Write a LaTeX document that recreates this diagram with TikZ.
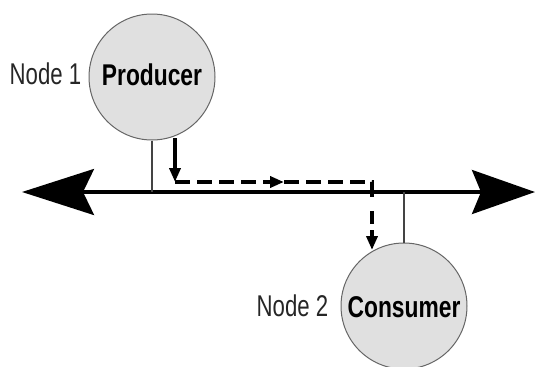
\documentclass[tikz,border=0pt]{standalone}
\usepackage{fontspec}
\setmainfont{Liberation Sans}
\usetikzlibrary{arrows.meta,calc}
\definecolor{circfill}{HTML}{E0E0E0}
\definecolor{circline}{HTML}{666666}
\definecolor{stubline}{HTML}{444444}
\tikzset{
  station/.style={circle, draw=circline, line width=1pt, fill=circfill, minimum size=126pt, inner sep=0pt},
  lbl/.style={font=\fontsize{30}{30}\selectfont, inner sep=0pt, anchor=base, text=black!85},
  blbl/.style={font=\bfseries\fontsize{30}{30}\selectfont, inner sep=0pt, anchor=base},
  bus/.style={line width=3.4pt, {Stealth[length=72pt,width=46pt,inset=11pt]}-{Stealth[length=63pt,width=44pt,inset=9pt]}},
  stub/.style={draw=stubline, line width=1.6pt},
  flowline/.style={line width=3.6pt},
  flowdash/.style={line width=3.6pt, dash pattern=on 15pt off 7pt},
  flowtip/.style={-{Triangle[length=14pt,width=11pt]}},
}
\begin{document}
\begin{tikzpicture}[x=1pt,y=-1pt]
\useasboundingbox (0,0) rectangle (536,367);
% stations
\node[station] (prod) at (152,77) {};
\node[station] (cons) at (404,306) {};
\node[blbl] (prodtxt) at (152,85) {\scalebox{0.76}[1]{Producer}};
\node[blbl] (constxt) at (404,317) {\scalebox{0.76}[1]{Consumer}};
\node[lbl] (n1) at (45.5,84) {\scalebox{0.74}[1]{Node 1}};
\node[lbl] (n2) at (292.5,316) {\scalebox{0.74}[1]{Node 2}};
% bus
\coordinate (bl) at (22,192);
\coordinate (br) at (535,192);
\draw[bus] (bl) -- (br);
% stubs
\coordinate (s1) at (152,192);
\coordinate (s2) at (404,192);
\draw[stub] (prod.south) -- (s1);
\draw[stub] (s2) -- (cons.north);
% flow path
\coordinate (f0) at (175,138);
\coordinate (f1) at (175,182);
\coordinate (fm) at (284,182);
\coordinate (fm0) at (268,182);
\coordinate (f2) at (372,182);
\coordinate (f2b) at (372,204);
\coordinate (f2c) at (372,211);
\coordinate (f3) at (372,250);
\draw[flowline, flowtip] (f0) -- (f1);
\draw[flowdash] (f1) -- (fm0);
\draw[flowline, flowtip] (fm0) -- (fm);
\draw[flowdash, line join=miter] (fm) -- (f2) -- (f2b);
\draw[flowline, dash pattern=on 13pt off 6pt, flowtip] (f2c) -- (f3);
\end{tikzpicture}
\end{document}
